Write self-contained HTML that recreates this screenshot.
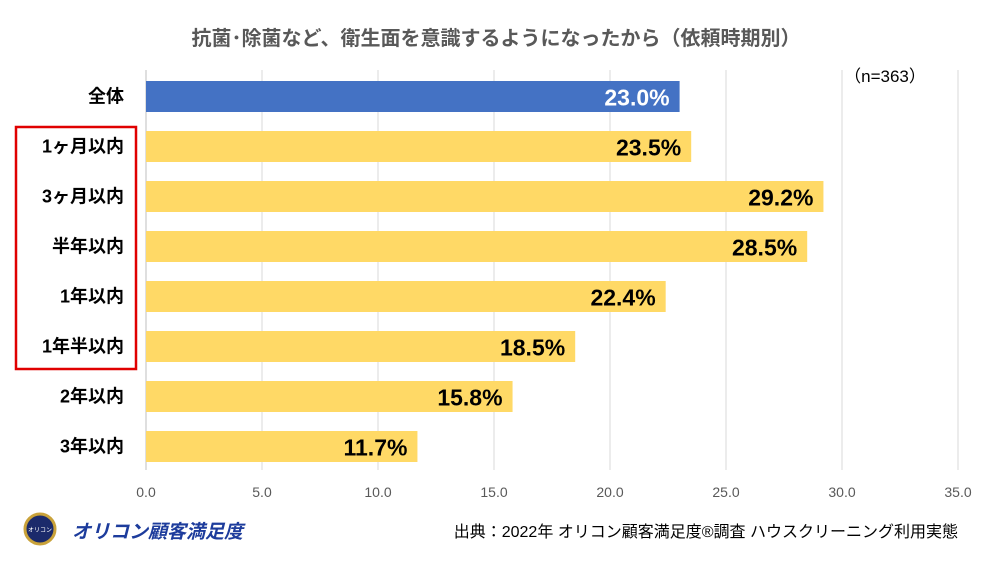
<!DOCTYPE html>
<html><head><meta charset="utf-8">
<style>
body{margin:0;background:#fff;width:993px;height:560px;overflow:hidden;font-family:"Liberation Sans","Noto Sans CJK JP",sans-serif;}
svg text{font-family:"Liberation Sans","Noto Sans CJK JP",sans-serif;}
</style></head>
<body>
<svg id="chart" width="993" height="560">
<text x="496" y="45" text-anchor="middle" font-size="20" font-weight="bold" fill="#595959">抗菌･除菌など、衛生面を意識するようになったから（依頼時期別）</text>
<text x="885" y="82" text-anchor="middle" font-size="17" fill="#000">（n=363）</text>
<g id="grid"></g>
<g id="bars"></g>
<g id="ticks"></g>
<rect x="16" y="127" width="120" height="242" fill="none" stroke="#e00000" stroke-width="2.5"/>
<g>
<circle cx="40" cy="529" r="15" fill="#1b2a6b" stroke="#c9a23a" stroke-width="3"/>
<text x="40" y="532" text-anchor="middle" font-size="6" fill="#fff">オリコン</text>
<text x="72" y="538" font-size="19" font-weight="bold" font-style="italic" fill="#1d3c9c">オリコン顧客満足度</text>
</g>
<text x="958" y="537" text-anchor="end" font-size="16" fill="#000">出典：2022年 オリコン顧客満足度®調査 ハウスクリーニング利用実態</text>
</svg>
<script>
const categories=["全体","1ヶ月以内","3ヶ月以内","半年以内","1年以内","1年半以内","2年以内","3年以内"];
const values=[23.0,23.5,29.2,28.5,22.4,18.5,15.8,11.7];
const tickValues=[0,5,10,15,20,25,30,35];
const ns="http://www.w3.org/2000/svg";
const x0=146,x1=958,xmax=35;
function xs(v){return x0+(v/xmax)*(x1-x0);}
function ys(i){return 81+i*50;}
const bh=31;
function mk(tag,attrs,parent){const e=document.createElementNS(ns,tag);for(const k in attrs)e.setAttribute(k,attrs[k]);parent.appendChild(e);return e;}
const grid=document.getElementById('grid'),bars=document.getElementById('bars'),ticks=document.getElementById('ticks');
tickValues.forEach(t=>{
  const l=mk('line',{x1:xs(t),x2:xs(t),y1:70,y2:470,stroke:t===0?'#bfbfbf':'#d9d9d9','stroke-width':1},grid);
  
  
  const tx=mk('text',{x:xs(t),y:497,'text-anchor':'middle','font-size':14,fill:'#595959'},ticks);
  tx.textContent=t.toFixed(1);
  
  
});
categories.forEach((c,i)=>{
  const y=ys(i);
  const r=mk('rect',{x:x0,y:y,width:xs(values[i])-x0,height:bh,fill:i===0?'#4472c4':'#ffd966'},bars);
  
  
  const lb=mk('text',{x:124,y:y+bh/2+6,'text-anchor':'end','font-size':18,'font-weight':'bold',fill:'#000'},bars);
  lb.textContent=c;
  
  
  const vl=mk('text',{x:xs(values[i])-10,y:y+bh/2+9,'text-anchor':'end','font-size':23,'font-weight':'bold',fill:i===0?'#fff':'#000'},bars);
  vl.textContent=values[i].toFixed(1)+'%';
  
  
});
</script>
</body></html>
